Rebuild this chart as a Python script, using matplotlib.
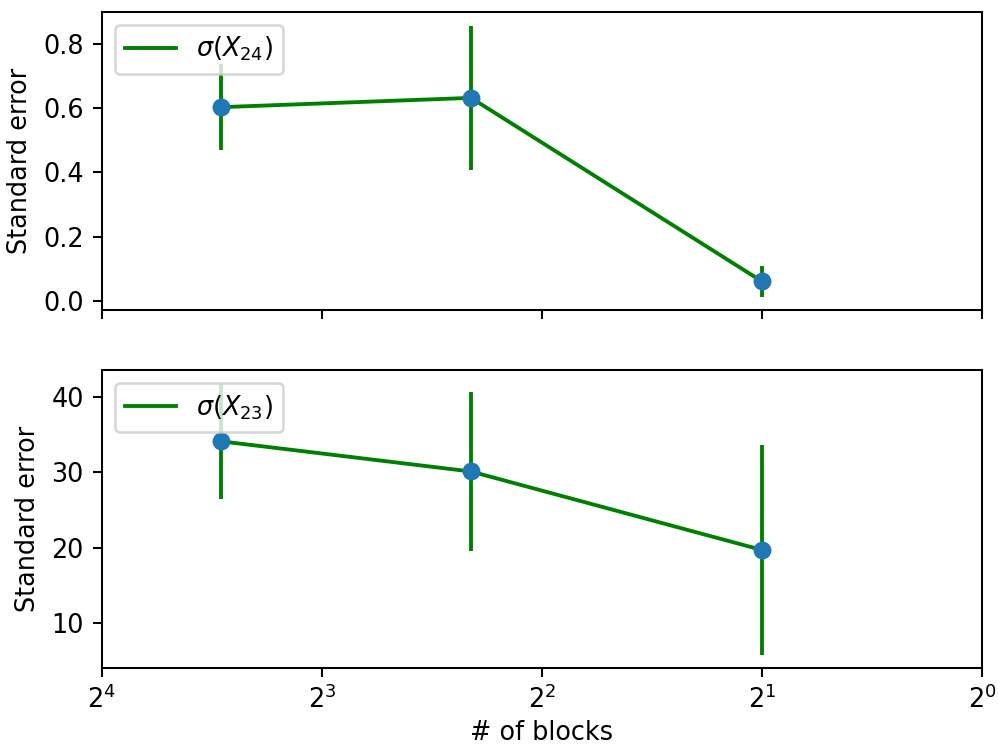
import matplotlib
matplotlib.use("Agg")
from matplotlib import pyplot as plt
import numpy as np

n_blocks = [11, 5, 2]

se_x24 = [0.603, 0.632, 0.061]
err_x24 = [0.134, 0.225, 0.047]

se_x23 = [34.1, 30.1, 19.7]
err_x23 = [7.65, 10.5, 13.85]

labels = [r'$\sigma(X_{24})$', r'$\sigma(X_{23})$']


def main():
    dpi = 184
    fig, axes = plt.subplots(2, 1, sharex=True, figsize=(998 / dpi, 749 / dpi))
    for ax, y, e, lab in zip(axes, [se_x24, se_x23], [err_x24, err_x23], labels):
        ax.plot(n_blocks, y, color='g', label=lab)
        ax.errorbar(n_blocks, y, yerr=e, fmt='none', ecolor='g')
        ax.plot(n_blocks, y, 'o', color='C0')
        ax.set_ylabel('Standard error')
        ax.legend(loc='upper left')
    axes[1].set_xscale('log', base=2)
    axes[1].set_xlim(16, 1)
    axes[1].set_xlabel('# of blocks', labelpad=2)
    fig.subplots_adjust(left=0.102, right=0.984, top=0.984, bottom=0.108, hspace=0.201)
    fig.savefig('out.png', dpi=dpi)


main()
